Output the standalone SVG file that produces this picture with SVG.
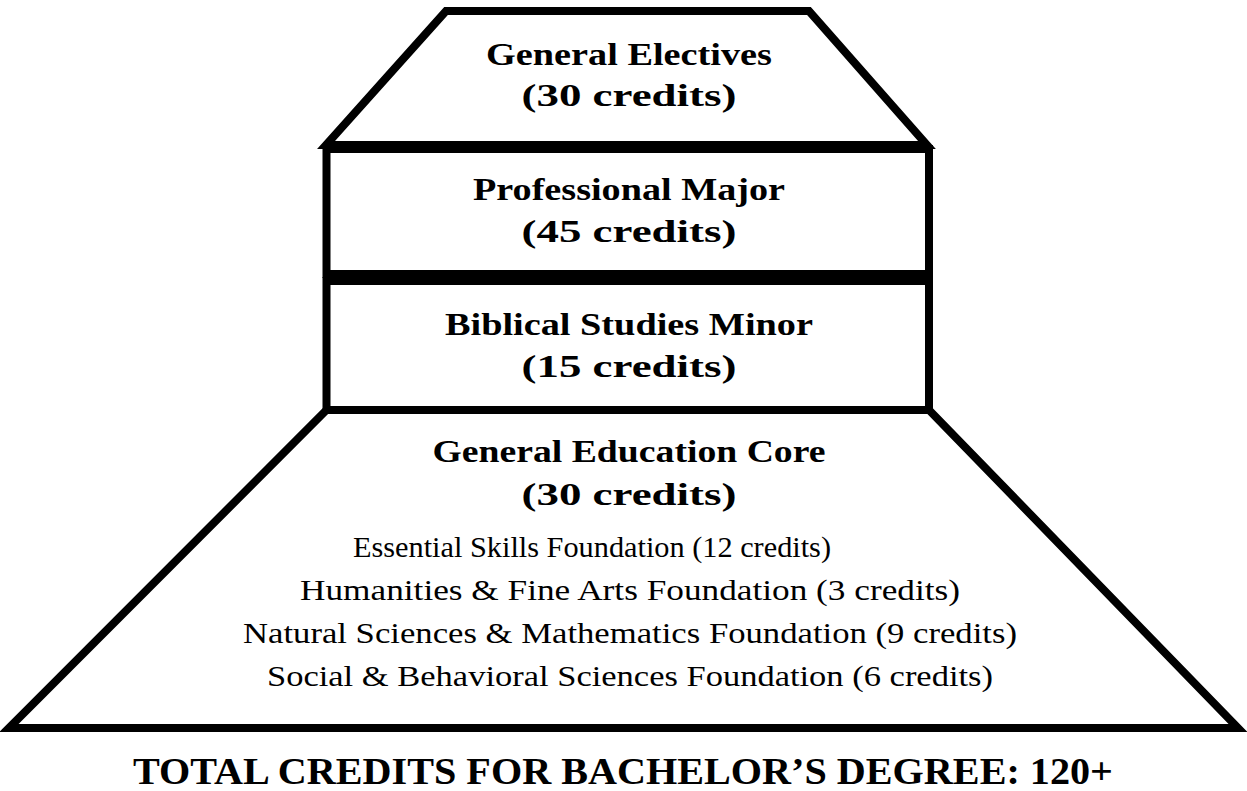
<svg xmlns="http://www.w3.org/2000/svg" width="1247" height="791" viewBox="0 0 1247 791">
<style>
.shape{fill:#fff;stroke:#000;stroke-width:8;stroke-linejoin:miter}
.h{font-family:"Liberation Serif","Times New Roman",serif;font-weight:bold;font-size:31px;text-anchor:middle;fill:#000}
.r{font-family:"Liberation Serif","Times New Roman",serif;font-size:29px;text-anchor:middle;fill:#000}
.t{font-family:"Liberation Serif","Times New Roman",serif;font-weight:bold;font-size:38px;text-anchor:middle;fill:#000}
</style>
<rect width="1247" height="791" fill="#fff"/>
<g id="general-electives">
<polygon class="shape" points="446,11 809,11 927,145 326,145"/>
<text class="h" x="629" y="65" textLength="286" lengthAdjust="spacingAndGlyphs">General Electives</text>
<text class="h" x="629" y="106" textLength="215" lengthAdjust="spacingAndGlyphs">(30 credits)</text>
</g>
<g id="professional-major">
<rect class="shape" x="326.5" y="149" width="602.5" height="125"/>
<text class="h" x="629" y="200" textLength="312" lengthAdjust="spacingAndGlyphs">Professional Major</text>
<text class="h" x="629" y="242" textLength="215" lengthAdjust="spacingAndGlyphs">(45 credits)</text>
</g>
<g id="biblical-studies-minor">
<rect class="shape" x="326.5" y="281" width="602.5" height="129"/>
<text class="h" x="629" y="335" textLength="368" lengthAdjust="spacingAndGlyphs">Biblical Studies Minor</text>
<text class="h" x="629" y="377" textLength="215" lengthAdjust="spacingAndGlyphs">(15 credits)</text>
</g>
<g id="general-education-core">
<polygon class="shape" points="326.5,410 929,410 1238,728 9,728"/>
<text class="h" x="629" y="462" textLength="393" lengthAdjust="spacingAndGlyphs">General Education Core</text>
<text class="h" x="629" y="505" textLength="215" lengthAdjust="spacingAndGlyphs">(30 credits)</text>
<text class="r" x="592" y="557" textLength="478" lengthAdjust="spacingAndGlyphs">Essential Skills Foundation (12 credits)</text>
<text class="r" x="630" y="600" textLength="660" lengthAdjust="spacingAndGlyphs">Humanities &amp; Fine Arts Foundation (3 credits)</text>
<text class="r" x="630" y="643" textLength="774" lengthAdjust="spacingAndGlyphs">Natural Sciences &amp; Mathematics Foundation (9 credits)</text>
<text class="r" x="630" y="686" textLength="726" lengthAdjust="spacingAndGlyphs">Social &amp; Behavioral Sciences Foundation (6 credits)</text>
</g>
<g id="total">
<text class="t" x="623" y="784" textLength="980" lengthAdjust="spacingAndGlyphs">TOTAL CREDITS FOR BACHELOR’S DEGREE: 120+</text>
</g>
</svg>
